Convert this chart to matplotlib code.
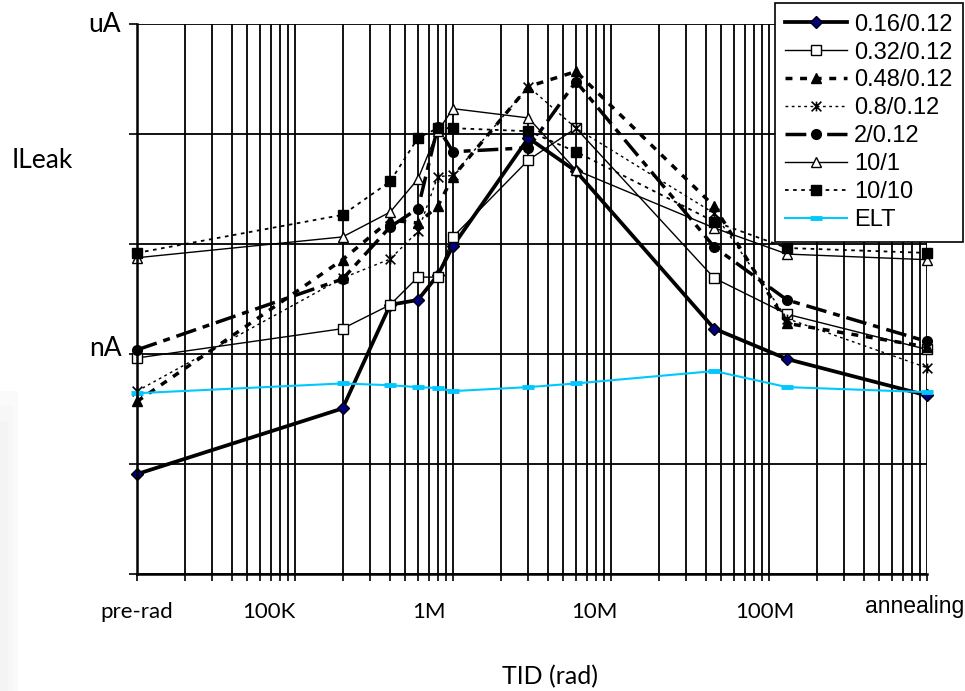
#!/usr/bin/env python3

import matplotlib
matplotlib.use("Agg")
import matplotlib.pyplot as plt
import matplotlib.transforms as mtransforms
from matplotlib.path import Path
from matplotlib.patches import Rectangle
from matplotlib.ticker import LogLocator, NullFormatter

# dose steps in rad (pre-rad drawn at 10K, annealing at 1G)
tid = [1e4, 2e5, 4e5, 6e5, 8e5, 1e6, 3e6, 6e6, 4.5e7, 1.3e8, 1e9]

# leakage current in A, one list per W/L
i_016_012 = [8.1e-11, 3.2e-10, 2.8e-9, 3.1e-9, 5.2e-9, 9.6e-9, 9.2e-8, 4.6e-8, 1.7e-9, 9.0e-10, 4.2e-10]
i_032_012 = [9.2e-10, 1.7e-9, 2.8e-9, 5.0e-9, 5.0e-9, 1.16e-8, 5.8e-8, 1.13e-7, 4.9e-9, 2.3e-9, 1.1e-9]
i_048_012 = [3.7e-10, 7.2e-9, 1.65e-8, 1.55e-8, 2.2e-8, 4.1e-8, 2.7e-7, 3.7e-7, 2.2e-8, 1.9e-9, 1.16e-9]
i_08_012 = [4.6e-10, 4.9e-9, 7.3e-9, 1.3e-8, 4.1e-8, 4.2e-8, 2.7e-7, 1.13e-7, 1.9e-8, 2.1e-9, 7.5e-10]
i_2_012 = [1.09e-9, 4.8e-9, 1.43e-8, 2.1e-8, 1.15e-7, 6.9e-8, 7.5e-8, 3.0e-7, 9.4e-9, 3.1e-9, 1.3e-9]
i_10_1 = [7.5e-9, 1.16e-8, 1.95e-8, 3.9e-8, 1.06e-7, 1.7e-7, 1.4e-7, 4.7e-8, 1.4e-8, 8.1e-9, 7.2e-9]
i_10_10 = [8.3e-9, 1.84e-8, 3.7e-8, 9.2e-8, 1.13e-7, 1.13e-7, 1.06e-7, 6.9e-8, 1.6e-8, 9.2e-9, 8.3e-9]
i_elt = [4.4e-10, 5.4e-10, 5.2e-10, 5.0e-10, 4.9e-10, 4.6e-10, 5.0e-10, 5.4e-10, 7.0e-10, 5.0e-10, 4.5e-10]

labels = ["0.16/0.12", "0.32/0.12", "0.48/0.12", "0.8/0.12", "2/0.12", "10/1", "10/10", "ELT"]

x_labels = ["pre-rad", "100K", "1M", "10M", "100M", "annealing"]
x_label_pos = [1e4, 6.8e4, 7.0e5, 7.8e6, 9.4e7, 8.4e8]

# excel style star: x with a vertical bar
star = Path([(-1, -1), (1, 1), (-1, 1), (1, -1), (0, -1), (0, 1)],
            [Path.MOVETO, Path.LINETO, Path.MOVETO, Path.LINETO, Path.MOVETO, Path.LINETO])

calibri_like = "Lato"
arial_like = "Liberation Sans"


def main():
    fig = plt.figure(figsize=(9.65, 6.91), dpi=100)
    # faint grey smear at the lower left of the scan
    for i, c in enumerate(["#f4f4f4", "#f7f7f7", "#fafafa"]):
        fig.patches.append(Rectangle((0, 0), (8 + 5 * i) / 965, (270 + 15 * i) / 691,
                                     transform=fig.transFigure, color=c, lw=0,
                                     zorder=-10 - i))
    ax = fig.add_axes([137 / 965, 1 - 574 / 691, 790 / 965, 550 / 691])
    ax.patch.set_alpha(0)
    ax.set_xscale("log")
    ax.set_yscale("log")
    ax.set_xlim(1e4, 1e9)
    ax.set_ylim(1e-11, 1e-6)

    ax.xaxis.set_major_locator(LogLocator(base=10))
    ax.xaxis.set_minor_locator(LogLocator(base=10, subs=range(2, 10)))
    ax.yaxis.set_major_locator(LogLocator(base=10))
    ax.yaxis.set_minor_locator(LogLocator(base=10, subs=[]))
    ax.xaxis.set_major_formatter(NullFormatter())
    ax.xaxis.set_minor_formatter(NullFormatter())
    ax.yaxis.set_major_formatter(NullFormatter())

    ax.grid(True, which="both", axis="x", color="black", lw=1.3)
    ax.grid(True, which="major", axis="y", color="black", lw=1.3)
    ax.set_axisbelow(True)
    for s in ["top", "right"]:
        ax.spines[s].set_visible(False)
    ax.spines["left"].set_linewidth(1.8)
    ax.spines["bottom"].set_linewidth(1.8)
    ax.tick_params(axis="x", which="both", direction="out", length=5, width=1.2)
    ax.tick_params(axis="y", which="major", direction="out", length=6, width=1.2)

    common = dict(color="black", clip_on=False)
    ax.plot(tid, i_016_012, lw=2.7, marker="D", ms=6, mfc="#000080", mec="black", mew=1,
            label=labels[0], **common)
    ax.plot(tid, i_032_012, lw=1, marker="s", ms=6.5, mfc="white", mec="black", mew=1,
            label=labels[1], **common)
    ax.plot(tid, i_048_012, lw=2.5, dashes=(2, 2.2), marker="^", ms=7.5, mfc="black",
            mec="black", label=labels[2], **common)
    ax.plot(tid, i_08_012, lw=1, dashes=(2, 2.5), marker=star, ms=7, mfc="none",
            mec="black", mew=1.2, label=labels[3], **common)
    ax.plot(tid, i_2_012, lw=2.5, dashes=(6, 2, 2, 2), marker="o", ms=7, mfc="black",
            mec="black", label=labels[4], **common)
    ax.plot(tid, i_10_1, lw=1, marker="^", ms=7.5, mfc="white", mec="black", mew=1,
            label=labels[5], **common)
    ax.plot(tid, i_10_10, lw=1.3, dashes=(2, 2.5), marker="s", ms=6.5, mfc="black",
            mec="black", label=labels[6], **common)
    ax.plot(tid, i_elt, color="#00c8ff", lw=1.5, marker="_", ms=9, mew=3.5,
            label=labels[7], clip_on=False)

    # x labels sit in a text row below the axis
    trans = mtransforms.blended_transform_factory(ax.transData, ax.transAxes)
    for lab, xp in zip(x_labels, x_label_pos):
        if lab == "annealing":
            ax.text(xp, -0.060, lab, transform=trans, ha="center", va="center",
                    fontsize=16.5, family=arial_like)
        else:
            ax.text(xp, -0.069, lab, transform=trans, ha="center", va="center",
                    fontsize=16, family=calibri_like)

    fig.text(550 / 965, 1 - 677 / 691, "TID (rad)", ha="center", va="center",
             fontsize=18, family=calibri_like)
    fig.text(105 / 965, 1 - 25 / 691, "uA", ha="center", va="center",
             fontsize=19, family=calibri_like)
    fig.text(105 / 965, 1 - 348 / 691, "nA", ha="center", va="center",
             fontsize=19, family=calibri_like)
    fig.text(42 / 965, 1 - 160 / 691, "ILeak", ha="center", va="center",
             fontsize=19, family=calibri_like)

    leg = ax.legend(loc="upper right", bbox_to_anchor=(963 / 965, 1 - 3 / 691),
                    bbox_transform=fig.transFigure, borderaxespad=0,
                    prop={"family": arial_like, "size": 17}, frameon=True,
                    fancybox=False, handlelength=2.6, handletextpad=0.3,
                    labelspacing=0.25, borderpad=0.45)
    leg.get_frame().set_edgecolor("black")
    leg.get_frame().set_linewidth(1.2)
    leg.get_frame().set_alpha(1)

    fig.savefig("out.png", dpi=100)


if __name__ == "__main__":
    main()
